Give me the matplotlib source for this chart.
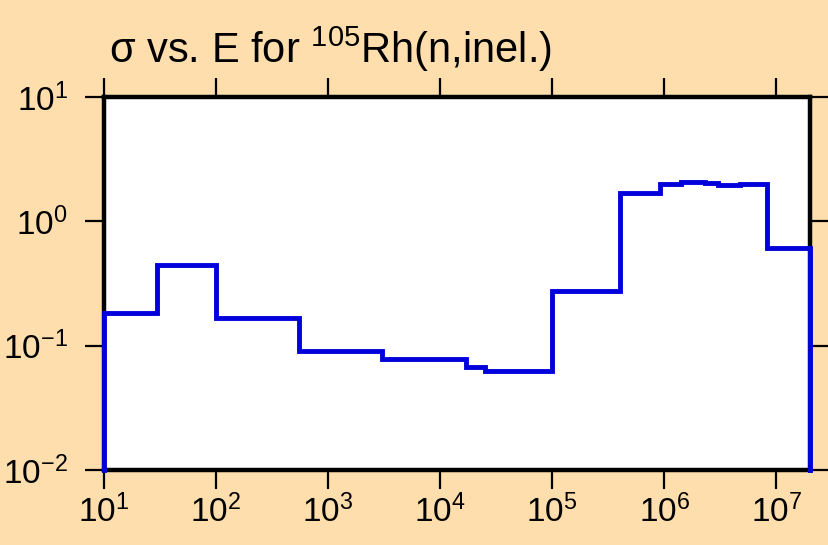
import numpy as np
import matplotlib
matplotlib.use("Agg")
import matplotlib.pyplot as plt
from matplotlib.ticker import FixedLocator, FuncFormatter, NullLocator

plt.rcParams['font.family'] = ['Liberation Sans', 'DejaVu Sans']
plt.rcParams['mathtext.fontset'] = 'custom'
plt.rcParams['mathtext.rm'] = 'Liberation Sans'
plt.rcParams['mathtext.it'] = 'Liberation Sans'
plt.rcParams['mathtext.bf'] = 'Liberation Sans'

# Bin edges (eV) and cross sections (b)
edges = [10, 30, 100, 550, 3000, 17000, 25000, 1e5, 4e5, 9.2e5, 1.4e6, 1.8e6,
         2.3e6, 3.0e6, 4.7e6, 8.3e6, 2e7]
sigma = [0.183, 0.445, 0.167, 0.0906, 0.078, 0.0673, 0.0625, 0.275, 1.68, 2.0,
         2.07, 2.08, 2.03, 1.96, 2.01, 0.614]
x_ticks = [1e1, 1e2, 1e3, 1e4, 1e5, 1e6, 1e7]
y_ticks = [1e-2, 1e-1, 1e0, 1e1]

bg = '#FFDEAD'
fig = plt.figure(figsize=(8.29, 5.45), dpi=100, facecolor=bg)
ax = fig.add_axes([104/829, 1-470/545, (810-104)/829, (470-97)/545])
ax.set_facecolor('white')

# step outline including drops to the axis floor at both ends
xs = [edges[0]] + list(np.repeat(edges, 2)[1:-1]) + [edges[-1]]
ys = [1e-2] + list(np.repeat(sigma, 2)) + [1e-2]
ax.plot(xs, ys, color='#0000DD', lw=3.5, solid_joinstyle='miter', clip_on=False, zorder=3)

ax.set_xscale('log')
ax.set_yscale('log')
ax.set_xlim(10, 2e7)
ax.set_ylim(1e-2, 1e1)

fmt = FuncFormatter(lambda v, p: r'$\mathregular{10^{%d}}$' % int(round(np.log10(v))))
ax.xaxis.set_major_locator(FixedLocator(x_ticks))
ax.yaxis.set_major_locator(FixedLocator(y_ticks))
ax.xaxis.set_minor_locator(NullLocator())
ax.yaxis.set_minor_locator(NullLocator())
ax.xaxis.set_major_formatter(fmt)
ax.yaxis.set_major_formatter(fmt)

for s in ax.spines.values():
    s.set_linewidth(3.2)
    s.set_color('black')

ax.tick_params(axis='both', which='major', direction='out', length=14, width=1.6,
               top=True, right=True, labelsize=24, color='black')
ax.tick_params(axis='x', pad=4)
ax.tick_params(axis='y', pad=12)

fig.text(109/829, 1-63/545, r'σ vs. E for $\mathregular{^{105}}$Rh(n,inel.)',
         fontsize=30, ha='left', va='baseline')

fig.savefig('out.png', dpi=100, facecolor=bg)
